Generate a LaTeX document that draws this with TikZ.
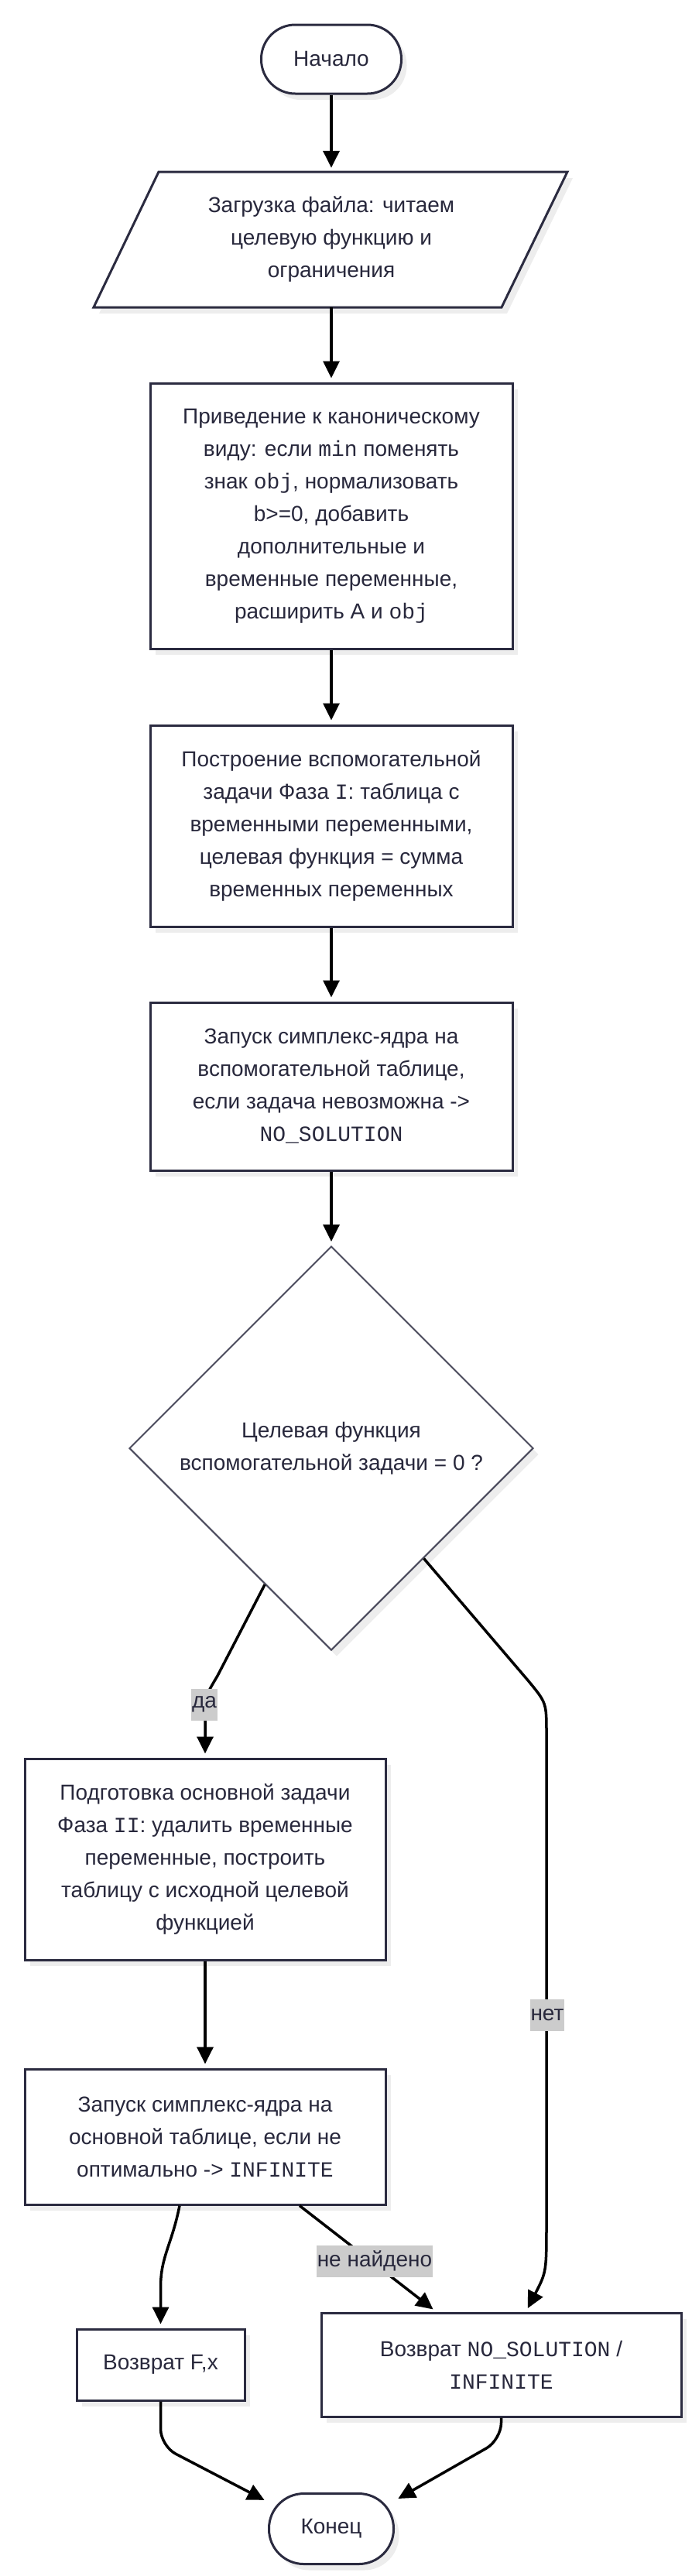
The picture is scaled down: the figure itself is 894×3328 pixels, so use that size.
\documentclass[tikz,border=0pt]{standalone}
\usepackage{fontspec}
\setmainfont{Liberation Sans}
\setmonofont{Liberation Mono}
\usetikzlibrary{shapes.geometric,arrows.meta,shadows}
\definecolor{bd}{HTML}{2B2B40}
\definecolor{tx}{HTML}{28283C}
\definecolor{lb}{HTML}{CCCCCC}
\begin{document}
\begin{tikzpicture}[x=1pt,y=-1pt,
  every node/.style={font=\fontsize{28}{42}\selectfont, text=tx},
  dshadow/.style={drop shadow={shadow xshift=7pt, shadow yshift=-8pt, fill=black, opacity=0.07}},
  box/.style={draw=bd, line width=3pt, fill=white, align=center, inner sep=0pt, dshadow},
  term/.style={box, rounded corners=44pt},
  decision/.style={diamond, aspect=1, draw=bd!85, line width=2pt, fill=white, align=center, inner sep=0pt, dshadow},
  arr/.style={draw=black, line width=3.5pt, shorten >=5pt, -{Triangle[length=22pt,width=21pt]}},
  elabel/.style={fill=lb, inner xsep=1pt, inner ysep=0pt, minimum height=41pt}
]
\fill[white] (0,0) rectangle (894,3328);
\useasboundingbox (0,0) rectangle (894,3328);

\node[term, minimum width=181pt, minimum height=89pt] (start) at (428,76.5) {Начало};

\filldraw[draw=bd, fill=white, line width=3pt, dshadow] (205,222) -- (733,222) -- (648,397) -- (121,397) -- cycle;
\node[align=center, minimum width=527pt, minimum height=175pt, inner sep=0pt] (load) at (428,309.5)
  {Загрузка файла: читаем\\целевую функцию и\\ограничения};

\node[box, minimum width=468pt, minimum height=343pt] (canon) at (428,666.5)
  {Приведение к каноническому\\виду: если \texttt{min} поменять\\знак \texttt{obj}, нормализовать\\b>=0, добавить\\дополнительные и\\временные переменные,\\расширить A и \texttt{obj}};

\node[box, minimum width=468pt, minimum height=260pt] (phase1) at (428,1067)
  {Построение вспомогательной\\задачи Фаза \texttt{I}: таблица с\\временными переменными,\\целевая функция = сумма\\временных переменных};

\node[box, minimum width=468pt, minimum height=217pt] (run1) at (428,1403.5)
  {Запуск симплекс-ядра на\\вспомогательной таблице,\\если задача невозможна ->\\\texttt{NO\_SOLUTION}};

\node[decision, minimum width=522pt, minimum height=522pt] (dia) at (428,1871)
  {Целевая функция\\вспомогательной задачи = 0 ?};

\node[box, minimum width=466pt, minimum height=260pt] (phase2) at (265,2402)
  {Подготовка основной задачи\\Фаза \texttt{II}: удалить временные\\переменные, построить\\таблицу с исходной целевой\\функцией};

\node[box, minimum width=466pt, minimum height=175pt] (run2) at (265,2760.5)
  {Запуск симплекс-ядра на\\основной таблице, если не\\оптимально -> \texttt{INFINITE}};

\node[box, minimum width=217pt, minimum height=92pt] (retFx) at (207.5,3055)
  {Возврат F,x};

\node[box, minimum width=465pt, minimum height=134pt] (retNo) at (647.5,3055)
  {Возврат \texttt{NO\_SOLUTION} /\\\texttt{INFINITE}};

\node[term, minimum width=161pt, minimum height=91pt, rounded corners=45pt] (end) at (428,3267) {Конец};

% connectors
\draw[arr] (start.south) -- (load.north);
\draw[arr] (load.south) -- (canon.north);
\draw[arr] (canon.south) -- (phase1.north);
\draw[arr] (phase1.south) -- (run1.north);
\draw[arr] (run1.south) -- (dia.north);

\draw[arr] (dia.244) -- (281,2165) .. controls (265,2192) .. (265,2215) -- (phase2.north);
\node[elabel] (yes) at (264,2202) {да};

\draw[arr] (dia.-50) -- (683,2172) .. controls (706,2200) .. (706,2240) -- (706,2870) .. controls (706,2935) .. ([xshift=32pt]retNo.north);
\node[elabel] (no) at (707,2603) {нет};

\draw[arr] (phase2.south) -- (run2.north);

\draw[arr] ([xshift=122pt]run2.south) -- ([xshift=-84pt]retNo.north);
\node[elabel] (nf) at (484,2921) {не найдено};

\draw[arr] ([xshift=-33pt]run2.south) .. controls (222,2900) and (207.5,2915) .. (207.5,2955) -- (retFx.north);

\draw[arr, rounded corners=22pt] (retFx.south) -- (207.5,3160) -- (end.157);
\draw[arr, rounded corners=22pt] (retNo.south) -- (647.5,3152) -- (end.24);
\end{tikzpicture}
\end{document}
